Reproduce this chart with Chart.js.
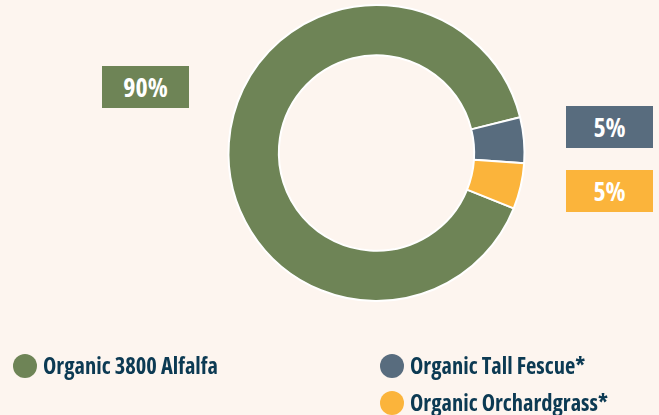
<!DOCTYPE html>
<html>
<head>
<meta charset="utf-8">
<script src="https://cdn.jsdelivr.net/npm/chart.js@4"></script>
<style>
  html, body { margin: 0; padding: 0; background: #fdf5ef; }
  #wrap { position: relative; width: 659px; height: 415px; overflow: hidden; font-family: 'Open Sans', sans-serif; font-stretch: 75%; font-weight: 700; }
  #chartBox { position: absolute; left: 0; top: 0; width: 659px; height: 415px; }
  .pct { position: absolute; color: #fff; font-size: 26px; text-align: center; line-height: 42px; height: 42px; width: 87px; }
  .legend-item { position: absolute; display: flex; align-items: center; color: #0c3a53; font-size: 22.5px; white-space: nowrap; }
  .legend-item .dot { width: 24px; height: 24px; border-radius: 50%; margin-right: 6px; }
</style>
</head>
<body>
<div id="wrap">
  <div id="chartBox"><canvas id="seedChart"></canvas></div>
  <div id="labels"></div>
  <div id="legend"></div>
</div>
<script>
const categories = ['Organic 3800 Alfalfa', 'Organic Tall Fescue*', 'Organic Orchardgrass*'];
const shares = [90, 5, 5];
const colors = ['#6e8456', '#586c7e', '#fbb43b'];

// where the percent boxes and legend entries sit
const labelSpots = [
    { left: 102, top: 66 },
    { left: 566, top: 106 },
    { left: 566, top: 170 }
];
const legendSpots = [
    { left: 13, top: 350 },
    { left: 380, top: 350 },
    { left: 380, top: 387 }
];

const ctx = document.getElementById('seedChart').getContext('2d');

new Chart(ctx, {
    type: 'doughnut',
    data: {
        labels: categories,
        datasets: [{
            data: shares,
            backgroundColor: colors,
            borderColor: '#ffffff',
            borderWidth: 2,
            hoverOffset: 0
        }]
    },
    options: {
        responsive: true,
        maintainAspectRatio: false,
        animation: false,
        cutout: '66%',
        rotation: 112,
        layout: {
            padding: { left: 227, right: 133, top: 4, bottom: 113 }
        },
        plugins: {
            legend: { display: false },
            tooltip: { enabled: false }
        }
    }
});

const labelsEl = document.getElementById('labels');
const legendEl = document.getElementById('legend');

categories.forEach((name, i) => {
    const box = document.createElement('div');
    box.className = 'pct';
    box.style.left = labelSpots[i].left + 'px';
    box.style.top = labelSpots[i].top + 'px';
    box.style.background = colors[i];
    box.textContent = shares[i] + '%';
    labelsEl.appendChild(box);

    const item = document.createElement('div');
    item.className = 'legend-item';
    item.style.left = legendSpots[i].left + 'px';
    item.style.top = legendSpots[i].top + 'px';
    item.innerHTML = `<span class="dot" style="background:${colors[i]}"></span><span>${name}</span>`;
    legendEl.appendChild(item);
});
</script>
</body>
</html>
